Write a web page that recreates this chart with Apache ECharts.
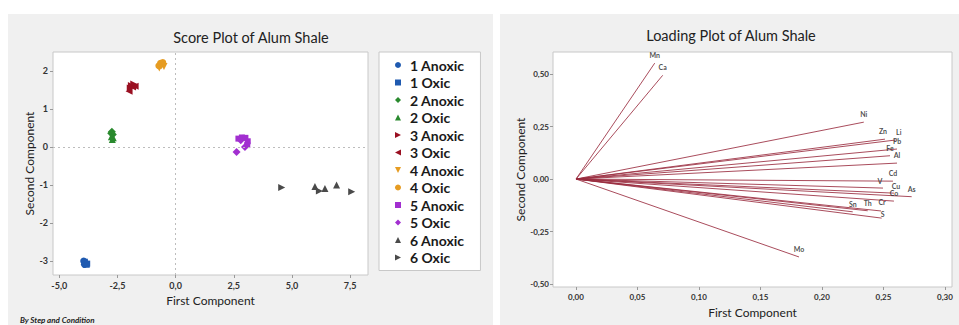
<!DOCTYPE html>
<html><head><meta charset="utf-8">
<script src="https://cdn.jsdelivr.net/npm/echarts@6/dist/echarts.min.js"></script>
<style>html,body{margin:0;padding:0;background:#fff}#c{width:959px;height:325px}</style>
</head><body><div id="c"></div>
<script>
// ---------- Score plot data ----------
const scoreSeriesNames = ['1 Anoxic','1 Oxic','2 Anoxic','2 Oxic','3 Anoxic','3 Oxic','4 Anoxic','4 Oxic','5 Anoxic','5 Oxic','6 Anoxic','6 Oxic'];
const s1Anoxic = [[-3.95,-3.0],[-3.88,-3.05],[-3.92,-3.09]];
const s1Oxic   = [[-3.82,-3.1],[-3.9,-3.02],[-3.8,-3.07]];
const s2Anoxic = [[-2.74,0.4],[-2.7,0.33],[-2.77,0.36]];
const s2Oxic   = [[-2.72,0.2],[-2.68,0.24],[-2.76,0.27]];
const s3Anoxic = [[-1.9,1.62],[-1.8,1.66],[-1.95,1.55]];
const s3Oxic   = [[-2.0,1.47],[-1.85,1.58],[-1.74,1.6]];
const s4Anoxic = [[-0.7,2.08],[-0.6,2.14],[-0.5,2.12]];
const s4Oxic   = [[-0.65,2.2],[-0.55,2.22],[-0.72,2.14]];
const s5Anoxic = [[2.7,0.22],[2.85,0.25],[3.0,0.24],[3.1,0.15],[3.08,0.05]];
const s5Oxic   = [[2.98,0.0],[2.62,-0.13],[2.8,0.18]];
const s6Anoxic = [[5.99,-1.04],[6.42,-1.09],[6.92,-1.0]];
const s6Oxic   = [[4.56,-1.07],[6.18,-1.16],[7.57,-1.18]];
const scoreData = [s1Anoxic,s1Oxic,s2Anoxic,s2Oxic,s3Anoxic,s3Oxic,s4Anoxic,s4Oxic,s5Anoxic,s5Oxic,s6Anoxic,s6Oxic];
const scoreXTicks = [-5,-2.5,0,2.5,5,7.5];
const scoreYTicks = [-3,-2,-1,0,1,2];

// ---------- Loading plot data ----------
const loadingVars = ['Mn','Ca','Ni','Zn','Li','Pb','Fe','Al','Cd','V','Cu','Co','As','Sn','Th','Cr','S','Mo'];
const loadingPC1  = [0.064,0.0705,0.234,0.2512,0.260,0.261,0.2553,0.261,0.2577,0.2496,0.2585,0.2585,0.2729,0.225,0.2372,0.248,0.2485,0.1813];
const loadingPC2  = [0.552,0.494,0.271,0.190,0.186,0.143,0.111,0.076,-0.010,-0.043,-0.067,-0.105,-0.084,-0.156,-0.151,-0.152,-0.186,-0.371];
const loadXTicks = [0,0.05,0.10,0.15,0.20,0.25,0.30];
const loadYTicks = [-0.5,-0.25,0,0.25,0.5];

// ---------- styles ----------
const colors  = ['#1f5ab0','#1f5ab0','#2a8a2e','#2a8a2e','#9a1022','#9a1022','#e69c22','#e69c22','#a22fd0','#a22fd0','#4a4a4a','#4a4a4a'];
const PR = 'path://M0,0L10,5L0,10Z', PL = 'path://M10,0L0,5L10,10Z', PD = 'path://M0,0L10,0L5,10Z', PU = 'path://M5,0L10,10L0,10Z';
const PS = 'path://M0,0L10,0L10,10L0,10Z', PDi = 'path://M5,0L10,5L5,10L0,5Z';
const symbols = ['circle','rect','diamond',PU,PR,PL,PD,'circle','rect','diamond',PU,PR];
const legendIcons = ['circle',PS,PDi,PU,PR,PL,PD,'circle',PS,PDi,PU,PR];
const sizes   = [7,6,8,7,7,7,7,7,6,8,7,7];
const labelTweaks = {V: {offset: [-3, 1]}, Cu: {offset: [2, 1]}, S: {offset: [1, 4]}, Cr: {offset: [1, -1]}, Li: {offset: [3, 0]}, Zn: {offset: [-2, 0]}};
const FONT = 'Lato';
const comma = (v, d) => v.toFixed(d).replace('.', ',');

const series = scoreSeriesNames.map((n,i) => ({
  name: n, type: 'scatter', xAxisIndex: 0, yAxisIndex: 0,
  data: scoreData[i], symbol: symbols[i], symbolSize: sizes[i],
  itemStyle: {color: colors[i], opacity: 1}, z: 3
}));
series[0].markLine = {
  silent: true, symbol: 'none', label: {show: false}, animation: false,
  lineStyle: {color: '#bdbdbd', type: [2,3], width: 1},
  data: [{xAxis: 0}, {yAxis: 0}]
};
series.push({
  type: 'lines', coordinateSystem: 'cartesian2d', xAxisIndex: 1, yAxisIndex: 1,
  lineStyle: {color: '#9a2d40', width: 1, opacity: 0.85},
  data: loadingVars.map((n,i) => ({name: n, coords: [[0,0],[loadingPC1[i], loadingPC2[i]]]}))
});
series.push({
  type: 'scatter', xAxisIndex: 1, yAxisIndex: 1, symbolSize: 1,
  itemStyle: {color: 'transparent'},
  label: {show: true, position: 'top', distance: 4, fontFamily: FONT, fontSize: 7, fontWeight: 'bold', color: '#222',
          formatter: p => p.name},
  data: loadingVars.map((n,i) => ({name: n, value: [loadingPC1[i], loadingPC2[i]], label: labelTweaks[n] || {}}))
});

const tick = vals => ({show: true, length: 3, lineStyle: {color: '#999'}, customValues: vals});
const axisCommon = {
  axisLine: {show: false, onZero: false},
  splitLine: {show: false},
  nameLocation: 'middle',
  nameTextStyle: {fontFamily: FONT, fontSize: 12, color: '#222'}
};

const chart = echarts.init(document.getElementById('c'), null, {renderer: 'svg'});
chart.setOption({
  animation: false,
  backgroundColor: '#f0f0f0',
  graphic: [
    {type: 'rect', shape: {x: 0, y: 0, width: 959, height: 14}, style: {fill: '#fff'}, silent: true},
    {type: 'rect', shape: {x: 0, y: 0, width: 8, height: 325}, style: {fill: '#fff'}, silent: true},
    {type: 'rect', shape: {x: 493, y: 0, width: 7, height: 325}, style: {fill: '#fff'}, silent: true},
    {type: 'text', x: 251, y: 37, style: {text: 'Score Plot of Alum Shale', font: '14.5px Lato', fill: '#222', textAlign: 'center', textVerticalAlign: 'middle'}},
    {type: 'text', x: 731, y: 35, style: {text: 'Loading Plot of Alum Shale', font: '14.5px Lato', fill: '#222', textAlign: 'center', textVerticalAlign: 'middle'}},
    {type: 'text', x: 20, y: 320, style: {text: 'By Step and Condition', font: 'italic bold 8px Lato', fill: '#222', textVerticalAlign: 'middle'}}
  ],
  grid: [
    {left: 53, top: 52, width: 315, height: 223, show: true, backgroundColor: '#fff', borderColor: '#c8c8c8', borderWidth: 1},
    {left: 553, top: 52, width: 399, height: 235, show: true, backgroundColor: '#fff', borderColor: '#c8c8c8', borderWidth: 1}
  ],
  xAxis: [
    Object.assign({}, axisCommon, {
      type: 'value', gridIndex: 0, min: -5.27, max: 8.27, name: 'First Component', nameGap: 17,
      axisTick: tick(scoreXTicks),
      axisLabel: {customValues: scoreXTicks, formatter: v => comma(v,1), fontFamily: FONT, fontSize: 9, fontWeight: 'bold', color: '#333', margin: 6}
    }),
    Object.assign({}, axisCommon, {
      type: 'value', gridIndex: 1, min: -0.0187, max: 0.3057, name: 'First Component', nameGap: 19,
      axisTick: tick(loadXTicks),
      axisLabel: {customValues: loadXTicks, formatter: v => comma(v,2), fontFamily: FONT, fontSize: 8, fontWeight: 'bold', color: '#333', margin: 6}
    })
  ],
  yAxis: [
    Object.assign({}, axisCommon, {
      type: 'value', gridIndex: 0, min: -3.37, max: 2.5, name: 'Second Component', nameGap: 14,
      axisTick: tick(scoreYTicks),
      axisLabel: {customValues: scoreYTicks, formatter: v => String(v), fontFamily: FONT, fontSize: 9, fontWeight: 'bold', color: '#333', margin: 5}
    }),
    Object.assign({}, axisCommon, {
      type: 'value', gridIndex: 1, min: -0.514, max: 0.605, name: 'Second Component', nameGap: 27,
      axisTick: tick(loadYTicks),
      axisLabel: {customValues: loadYTicks, formatter: v => comma(v,2), fontFamily: FONT, fontSize: 8, fontWeight: 'bold', color: '#333', margin: 4}
    })
  ],
  legend: {
    orient: 'vertical', left: 379, top: 52,
    data: scoreSeriesNames.map((n,i) => ({name: n, icon: legendIcons[i]})),
    backgroundColor: '#fff', borderColor: '#c8c8c8', borderWidth: 1,
    padding: [6, 16, 6, 16], itemWidth: 14, itemHeight: 6, itemGap: 3.5, symbolKeepAspect: true,
    textStyle: {fontFamily: FONT, fontSize: 14, fontWeight: 'bold', color: '#1a1a1a', lineHeight: 14}
  },
  series: series
});
</script>
</body></html>
